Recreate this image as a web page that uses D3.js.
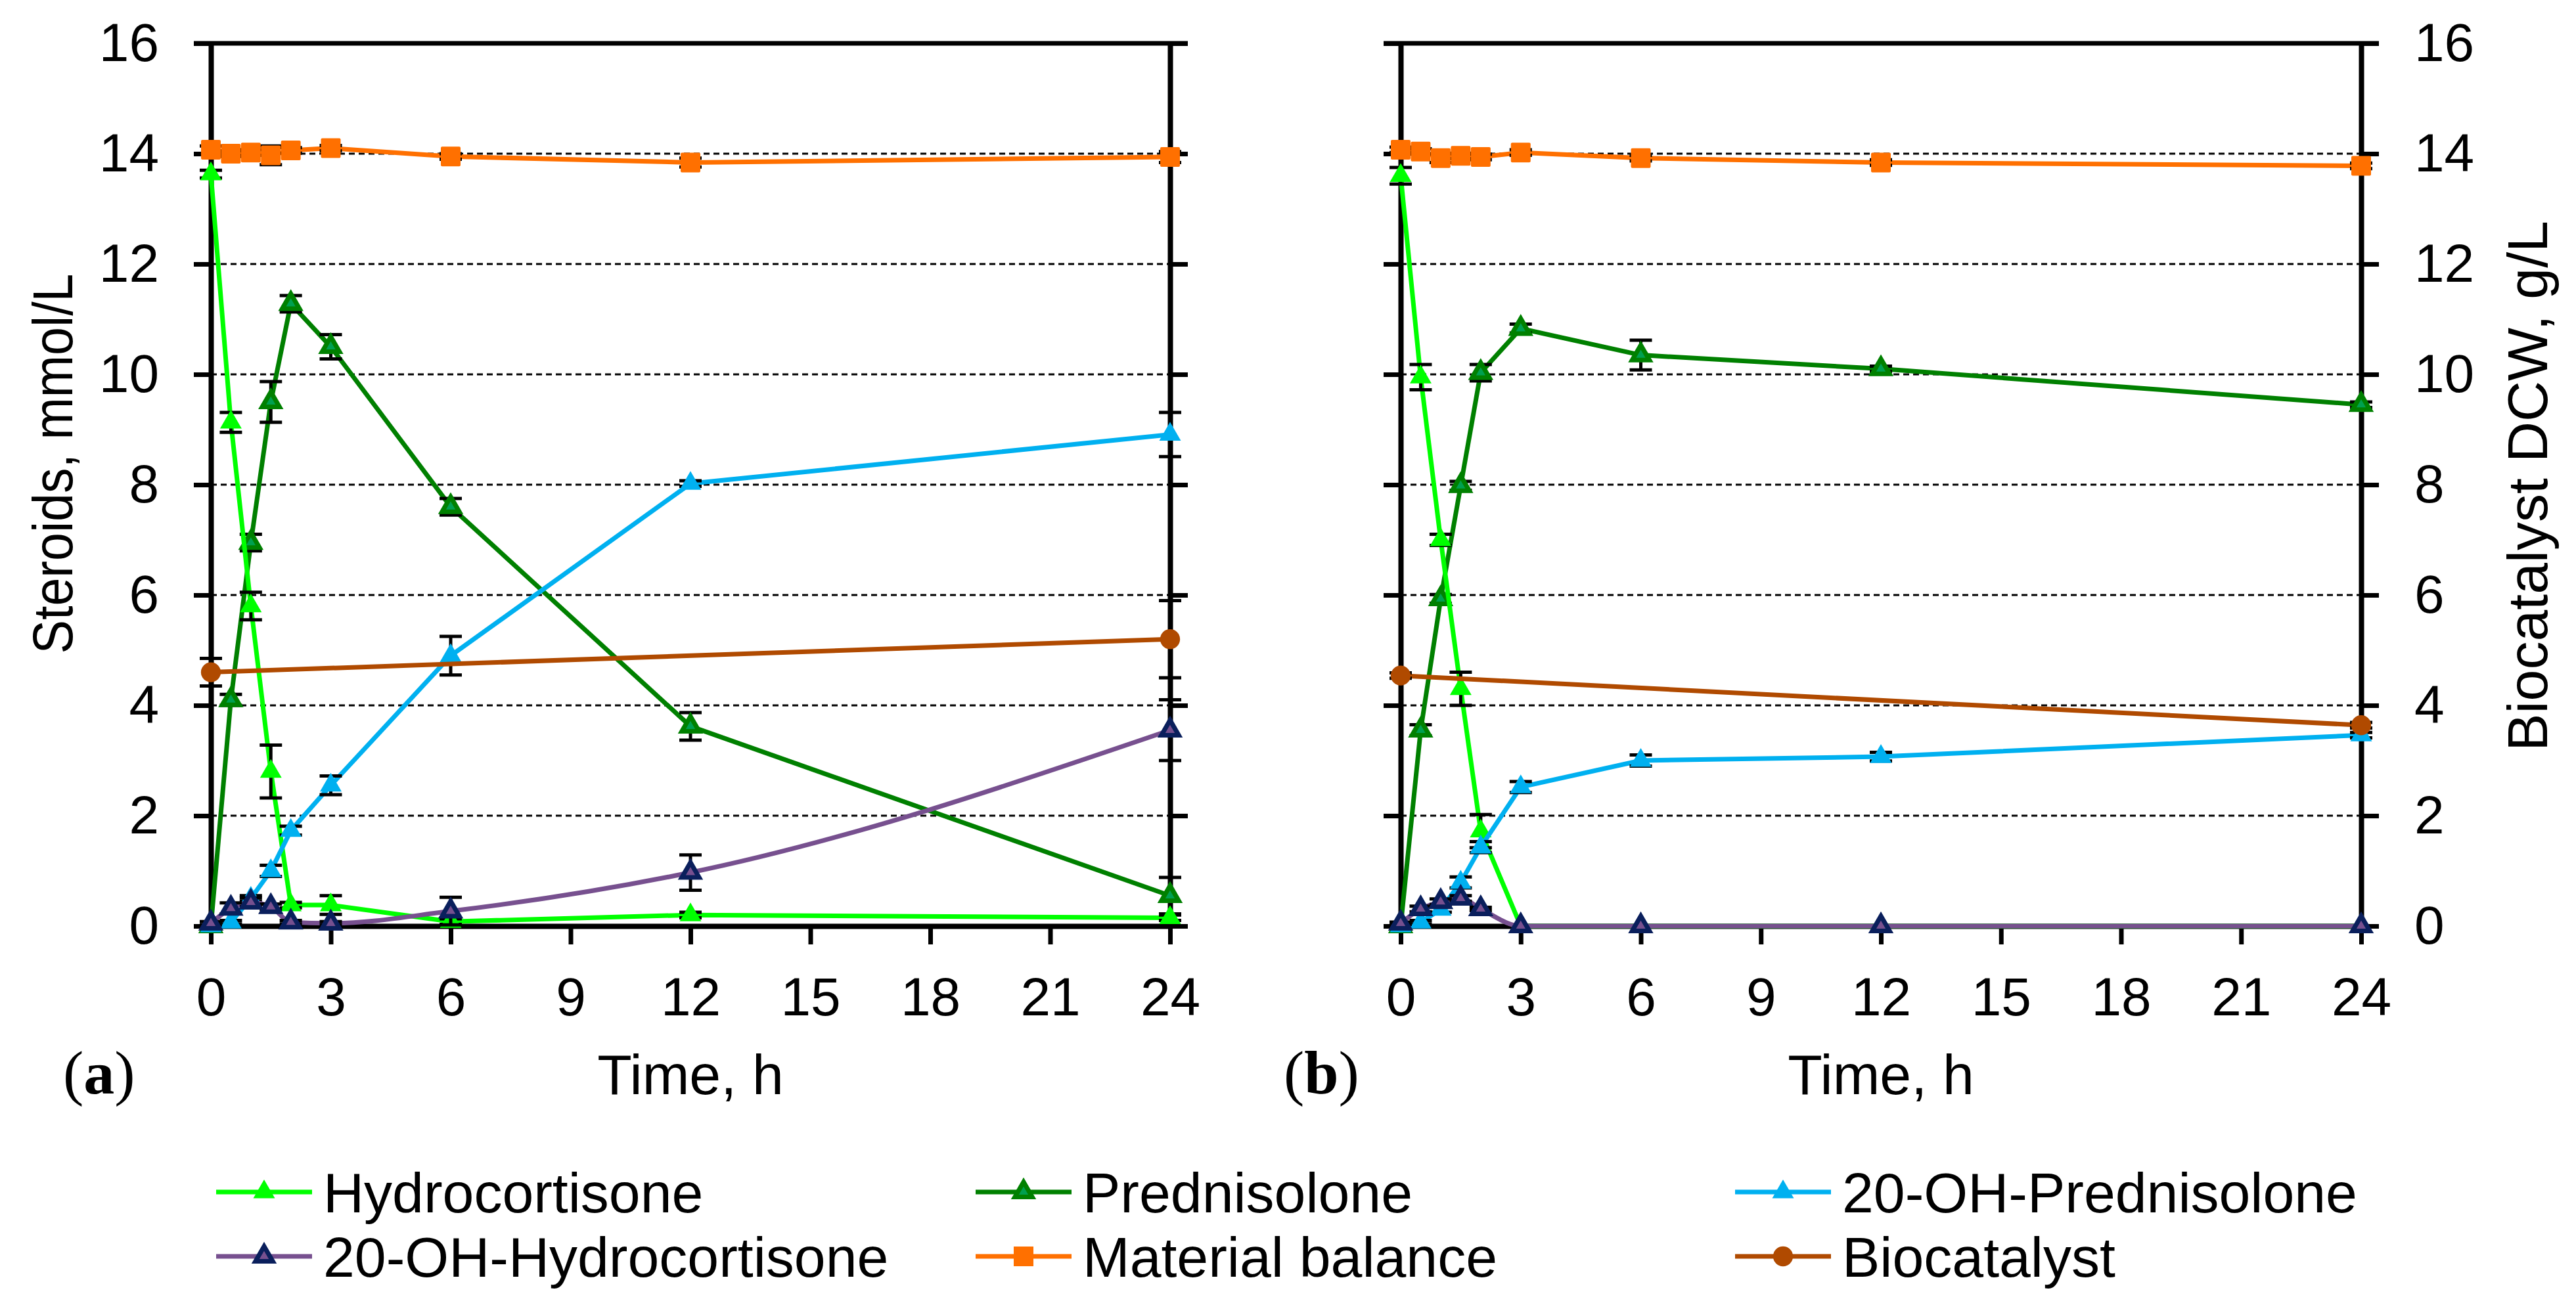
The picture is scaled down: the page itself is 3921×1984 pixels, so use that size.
<!DOCTYPE html>
<html>
<head>
<meta charset="utf-8">
<script src="https://cdn.jsdelivr.net/npm/d3@7"></script>
<style>
  html, body { margin: 0; padding: 0; background: #fff; }
  svg { display: block; font-family: "Liberation Sans", Arial, sans-serif; }
</style>
</head>
<body>
<svg id="chart" width="3921" height="1984"></svg>
<script>
// sampling times, h
var times = [0, 0.5, 1, 1.5, 2, 3, 6, 12, 24];
var bioTimes = [0, 24];
var xTickValues = [0, 3, 6, 9, 12, 15, 18, 21, 24];
var yTickValues = [0, 2, 4, 6, 8, 10, 12, 14, 16];
var gridValues = [2, 4, 6, 8, 10, 12, 14];

// panel (a), mmol/L (biocatalyst g/L)
var hydrocortisoneA = [13.63, 9.13, 5.8, 2.8, 0.38, 0.38, 0.08, 0.2, 0.15];
var hydrocortisoneAErr = [0.07, 0.18, 0.25, 0.48, 0.05, 0.17, 0.05, 0.05, 0.05];
var prednisoloneA = [0, 4.1, 6.95, 9.5, 11.28, 10.5, 7.6, 3.62, 0.55];
var prednisoloneAErr = [0, 0.1, 0.15, 0.37, 0.15, 0.22, 0.15, 0.25, 0.33];
var ohPrednisoloneA = [0, 0.07, 0.5, 1.0, 1.73, 2.55, 4.9, 8.02, 8.91];
var ohPrednisoloneAErr = [0, 0.03, 0.05, 0.1, 0.08, 0.17, 0.35, 0.05, 0.4];
var ohHydrocortisoneA = [0.05, 0.32, 0.43, 0.35, 0.07, 0.05, 0.27, 0.97, 3.55];
var ohHydrocortisoneAErr = [0.03, 0.1, 0.08, 0.05, 0.03, 0.03, 0.25, 0.32, 0.55];
var balanceA = [14.07, 14.0, 14.02, 13.97, 14.06, 14.1, 13.95, 13.84, 13.94];
var balanceAErr = [0.07, 0.05, 0.05, 0.17, 0.05, 0.05, 0.05, 0.08, 0.1];
var biocatalystA = [4.6, 5.2];
var biocatalystAErr = [0.25, 0.7];

// panel (b)
var hydrocortisoneB = [13.6, 9.95, 7.0, 4.3, 1.72, 0, 0, 0, 0];
var hydrocortisoneBErr = [0.15, 0.23, 0.1, 0.3, 0.3, 0, 0, 0, 0];
var prednisoloneB = [0, 3.55, 5.93, 7.98, 10.03, 10.83, 10.35, 10.1, 9.45];
var prednisoloneBErr = [0, 0.1, 0.08, 0.08, 0.15, 0.08, 0.27, 0.05, 0.05];
var ohPrednisoloneB = [0, 0.07, 0.3, 0.79, 1.43, 2.52, 3.0, 3.07, 3.46];
var ohPrednisoloneBErr = [0, 0.03, 0.05, 0.1, 0.1, 0.1, 0.1, 0.08, 0.05];
var ohHydrocortisoneB = [0.05, 0.31, 0.44, 0.5, 0.31, 0, 0, 0, 0];
var ohHydrocortisoneBErr = [0.02, 0.05, 0.05, 0.05, 0.03, 0, 0, 0, 0];
var balanceB = [14.07, 14.04, 13.92, 13.96, 13.94, 14.02, 13.92, 13.84, 13.78];
var balanceBErr = [0.05, 0.05, 0.08, 0.05, 0.05, 0.05, 0.05, 0.05, 0.05];
var biocatalystB = [4.54, 3.64];
var biocatalystBErr = [0.05, 0.05];

var legendNames = ['Hydrocortisone', 'Prednisolone', '20-OH-Prednisolone',
  '20-OH-Hydrocortisone', 'Material balance', 'Biocatalyst'];

var styles = {
  'Hydrocortisone': { line: '#00FF00', fill: '#00FF00', stroke: 'none', shape: 'tri' },
  'Prednisolone': { line: '#008000', fill: '#00A050', stroke: '#008000', shape: 'tri' },
  '20-OH-Prednisolone': { line: '#00B0F0', fill: '#00B0F0', stroke: 'none', shape: 'tri' },
  '20-OH-Hydrocortisone': { line: '#77508F', fill: '#77508F', stroke: '#0A1F5C', shape: 'tri', smooth: true },
  'Material balance': { line: '#FF7000', fill: '#FF7000', stroke: '#FF7000', shape: 'square' },
  'Biocatalyst': { line: '#B04A00', fill: '#B04A00', stroke: 'none', shape: 'circle' }
};
var drawOrder = ['Prednisolone', 'Hydrocortisone', '20-OH-Prednisolone',
  '20-OH-Hydrocortisone', 'Material balance', 'Biocatalyst'];

function makeSeries(t, v, e) {
  return t.map(function (d, i) { return { t: d, v: v[i], e: e[i] }; });
}

var panelA = {
  'Hydrocortisone': makeSeries(times, hydrocortisoneA, hydrocortisoneAErr),
  'Prednisolone': makeSeries(times, prednisoloneA, prednisoloneAErr),
  '20-OH-Prednisolone': makeSeries(times, ohPrednisoloneA, ohPrednisoloneAErr),
  '20-OH-Hydrocortisone': makeSeries(times, ohHydrocortisoneA, ohHydrocortisoneAErr),
  'Material balance': makeSeries(times, balanceA, balanceAErr),
  'Biocatalyst': makeSeries(bioTimes, biocatalystA, biocatalystAErr)
};
var panelB = {
  'Hydrocortisone': makeSeries(times, hydrocortisoneB, hydrocortisoneBErr),
  'Prednisolone': makeSeries(times, prednisoloneB, prednisoloneBErr),
  '20-OH-Prednisolone': makeSeries(times, ohPrednisoloneB, ohPrednisoloneBErr),
  '20-OH-Hydrocortisone': makeSeries(times, ohHydrocortisoneB, ohHydrocortisoneBErr),
  'Material balance': makeSeries(times, balanceB, balanceBErr),
  'Biocatalyst': makeSeries(bioTimes, biocatalystB, biocatalystBErr)
};

var svg = d3.select('#chart');
var yTop = 66, yBottom = 1410;

function symbolFor(st) {
  if (st.shape == 'square') return d3.symbol().type(d3.symbolSquare).size(676);
  if (st.shape == 'circle') return d3.symbol().type(d3.symbolCircle).size(720);
  if (st.stroke != 'none') return d3.symbol().type(d3.symbolTriangle).size(300);
  return d3.symbol().type(d3.symbolTriangle).size(470);
}

function styleAxis(g) {
  g.select('.domain').attr('stroke', '#000').attr('stroke-width', 8);
  g.selectAll('.tick line').attr('stroke', '#000').attr('stroke-width', 7);
  g.selectAll('.tick text').attr('fill', '#000').attr('font-size', 82)
    .attr('font-family', '"Liberation Sans", Arial, sans-serif');
}

function drawPanel(data, x0, x1, leftLabels, rightLabels) {
  var x = d3.scaleLinear().domain([0, 24]).range([x0, x1]);
  var y = d3.scaleLinear().domain([0, 16]).range([yBottom, yTop]);
  var g = svg.append('g');

  g.selectAll('line.grid').data(gridValues).enter().append('line')
    .attr('class', 'grid')
    .attr('x1', x0).attr('x2', x1)
    .attr('y1', function (d) { return y(d); }).attr('y2', function (d) { return y(d); })
    .attr('stroke', '#000').attr('stroke-width', 3).attr('stroke-dasharray', '9,6');

  //frame top line runs across the tick stubs
  g.append('line').attr('x1', x0 - 26).attr('x2', x1 + 27)
    .attr('y1', y(16)).attr('y2', y(16)).attr('stroke', '#000').attr('stroke-width', 7);

  var left = d3.axisLeft(y).tickValues(yTickValues).tickSize(26).tickSizeOuter(0).tickPadding(53);
  if (!leftLabels) left.tickFormat('');
  g.append('g').attr('transform', 'translate(' + x0 + ',0)').call(left).call(styleAxis);

  var right = d3.axisRight(y).tickValues(yTickValues).tickSize(27).tickSizeOuter(0).tickPadding(54);
  if (!rightLabels) right.tickFormat('');
  g.append('g').attr('transform', 'translate(' + x1 + ',0)').call(right).call(styleAxis);

  var bottom = d3.axisBottom(x).tickValues(xTickValues).tickSize(28).tickSizeOuter(0).tickPadding(50);
  g.append('g').attr('transform', 'translate(0,' + yBottom + ')').call(bottom).call(styleAxis);

  drawOrder.forEach(function (name) {
    var st = styles[name], pts = data[name];
    var line = d3.line()
      .x(function (d) { return x(d.t); })
      .y(function (d) { return y(d.v); })
      .curve(st.smooth ? d3.curveMonotoneX : d3.curveLinear);
    g.append('path').datum(pts).attr('d', line)
      .attr('fill', 'none').attr('stroke', st.line).attr('stroke-width', 7)
      .attr('stroke-linejoin', 'round');

    var err = g.append('g');
    pts.filter(function (d) { return d.e > 0; }).forEach(function (d) {
      var cx = x(d.t), lo = y(d.v - d.e), hi = y(d.v + d.e);
      err.append('line').attr('x1', cx).attr('x2', cx).attr('y1', lo).attr('y2', hi);
      err.append('line').attr('x1', cx - 17).attr('x2', cx + 17).attr('y1', lo).attr('y2', lo);
      err.append('line').attr('x1', cx - 17).attr('x2', cx + 17).attr('y1', hi).attr('y2', hi);
    });
    err.selectAll('line').attr('stroke', '#000').attr('stroke-width', 5);

    g.selectAll(null).data(pts).enter().append('path')
      .attr('d', symbolFor(st))
      .attr('transform', function (d) { return 'translate(' + x(d.t) + ',' + y(d.v) + ')'; })
      .attr('fill', st.fill).attr('stroke', st.stroke)
      .attr('stroke-width', st.shape == 'square' ? 4 : 7)
      .attr('stroke-linejoin', st.shape == 'square' ? 'round' : 'miter');
  });

  g.append('text').attr('x', (x0 + x1) / 2).attr('y', 1666)
    .attr('text-anchor', 'middle').attr('font-size', 86).text('Time, h');
}

drawPanel(panelA, 321, 1781, true, false);
drawPanel(panelB, 2132, 3594, false, true);

// axis titles
svg.append('text').attr('transform', 'translate(110,706) rotate(-90)')
  .attr('text-anchor', 'middle').attr('font-size', 86)
  .attr('textLength', 579).attr('lengthAdjust', 'spacingAndGlyphs')
  .text('Steroids, mmol/L');
svg.append('text').attr('transform', 'translate(3877,740) rotate(-90)')
  .attr('text-anchor', 'middle').attr('font-size', 86)
  .text('Biocatalyst DCW, g/L');

// panel letters
[['a', 96], ['b', 1954]].forEach(function (p) {
  var t = svg.append('text').attr('x', p[1]).attr('y', 1665)
    .attr('font-family', '"Liberation Serif", "Times New Roman", serif').attr('font-size', 94);
  t.append('tspan').text('(');
  t.append('tspan').attr('font-weight', 'bold').text(p[0]);
  t.append('tspan').text(')');
});

// legend, 3 columns x 2 rows
var legend = svg.append('g');
legendNames.forEach(function (name, i) {
  var st = styles[name];
  var lx = 329 + (i % 3) * 1156, ly = 1815 + Math.floor(i / 3) * 98;
  legend.append('line').attr('x1', lx).attr('x2', lx + 146).attr('y1', ly).attr('y2', ly)
    .attr('stroke', st.line).attr('stroke-width', 7);
  legend.append('path')
    .attr('d', symbolFor(st))
    .attr('transform', 'translate(' + (lx + 73) + ',' + ly + ')')
    .attr('fill', st.fill).attr('stroke', st.stroke)
    .attr('stroke-width', st.shape == 'square' ? 4 : 7);
  legend.append('text').attr('x', lx + 163).attr('y', ly + 31)
    .attr('font-size', 86).text(name);
});
</script>
</body>
</html>
